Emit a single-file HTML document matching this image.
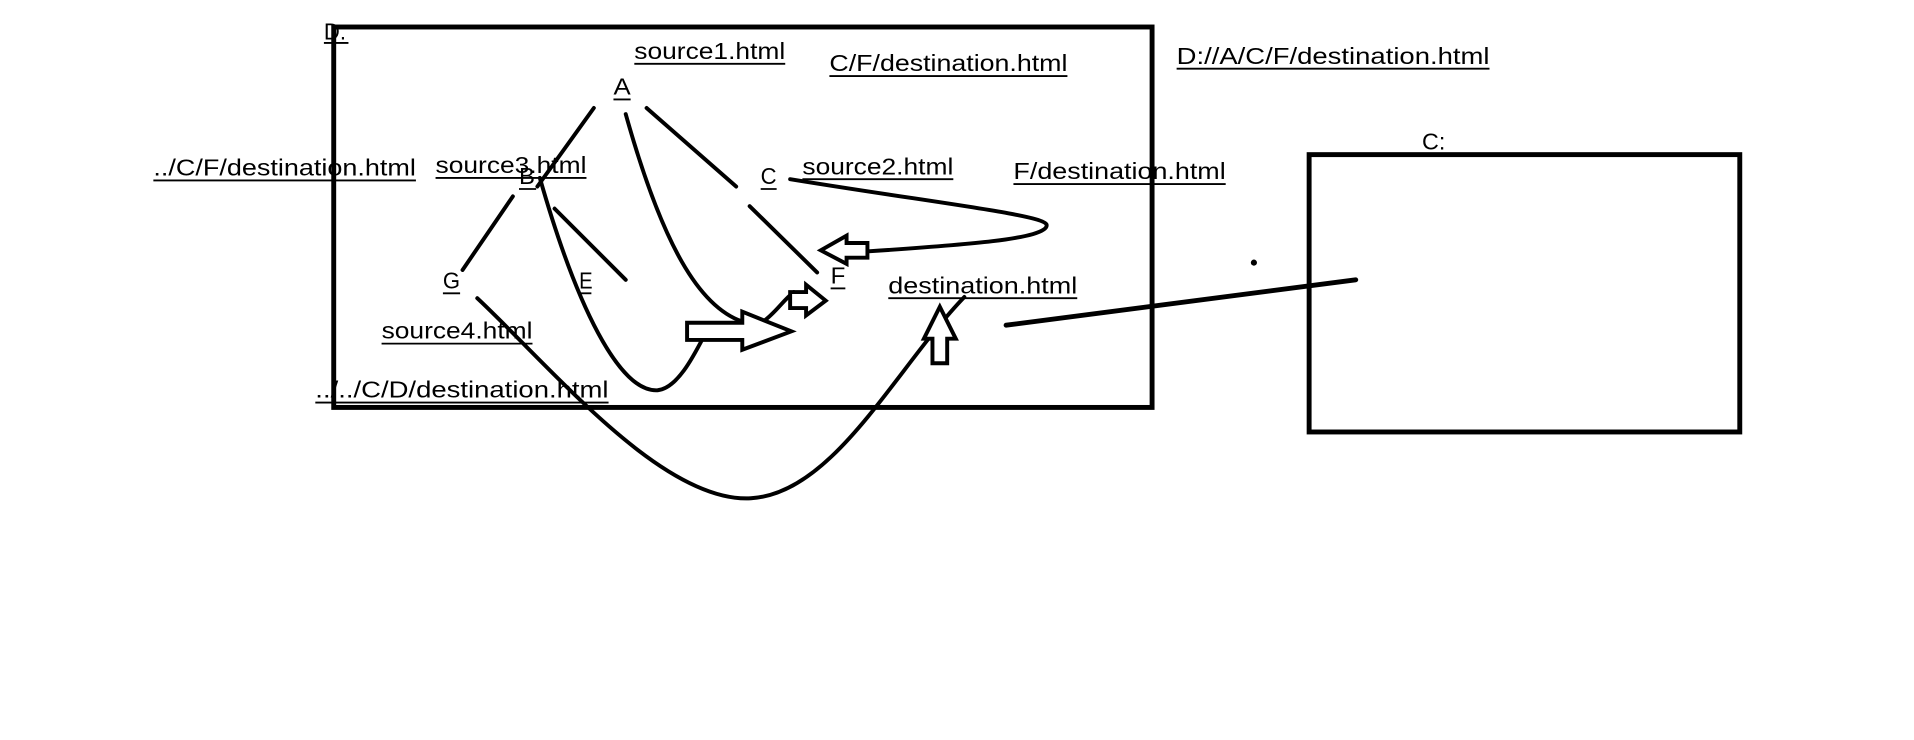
<!DOCTYPE html>
<html><head><meta charset="utf-8"><style>
html,body{margin:0;padding:0;background:#fff;width:1914px;height:740px;overflow:hidden}
svg{display:block}
text{font-family:"Liberation Sans",sans-serif;font-size:19px;fill:#000}
</style></head><body>
<svg width="1914" height="740" viewBox="0 0 1560 603" preserveAspectRatio="none" xmlns="http://www.w3.org/2000/svg">
<g fill="none" stroke="#000" stroke-linecap="round" stroke-linejoin="miter">
<rect x="272" y="22" width="667" height="310" stroke-width="4"/>
<rect x="1067" y="126" width="351" height="226" stroke-width="4"/>
<g stroke-width="3.2">
<line x1="484" y1="88" x2="438" y2="152"/>
<line x1="527" y1="88" x2="600" y2="152"/>
<line x1="611" y1="168" x2="666" y2="222"/>
<line x1="418" y1="160" x2="377" y2="220"/>
<line x1="452" y1="170" x2="510" y2="228"/>
<path d="M440,145 C470,250 505,320 536,318 C555,316 570,280 578,266"/>
<path d="M510,93 C540,200 570,250 605,262"/>
<path d="M622,262 C632,255 638,245 647,238"/>
<path d="M644,146 C760,165 850,175 853,183 C856,195 780,200 705,205"/>
<path d="M389,243 C450,300 540,410 612,406 C680,402 730,300 786,242"/>
<polygon points="560,263 605,263 605,254 645,270 605,285 605,277 560,277" fill="#fff"/>
<polygon points="644,238 657,238 657,232 673,245 657,257 657,251 644,251" fill="#fff"/>
<polygon points="707,198 690,198 690,192 669,204 690,215 690,210 707,210" fill="#fff"/>
<polygon points="760,296 772,296 772,276 779,276 766,250 753,276 760,276" fill="#fff"/>
</g>
<line x1="820" y1="265" x2="1105" y2="228" stroke-width="4"/>
</g>
<circle cx="1022" cy="214" r="2.5" fill="#000"/>
<g>
<text x="264" y="32" textLength="18" lengthAdjust="spacingAndGlyphs">D.</text>
<text x="517" y="48" textLength="123" lengthAdjust="spacingAndGlyphs">source1.html</text>
<text x="676" y="58" textLength="194" lengthAdjust="spacingAndGlyphs">C/F/destination.html</text>
<text x="959" y="52" textLength="255" lengthAdjust="spacingAndGlyphs">D://A/C/F/destination.html</text>
<text x="500" y="77" textLength="14" lengthAdjust="spacingAndGlyphs">A</text>
<text x="125" y="143" textLength="214" lengthAdjust="spacingAndGlyphs">../C/F/destination.html</text>
<text x="355" y="141" textLength="123" lengthAdjust="spacingAndGlyphs">source3.html</text>
<text x="423" y="150" textLength="13" lengthAdjust="spacingAndGlyphs">B</text>
<text x="620" y="150" textLength="13" lengthAdjust="spacingAndGlyphs">C</text>
<text x="654" y="142" textLength="123" lengthAdjust="spacingAndGlyphs">source2.html</text>
<text x="826" y="146" textLength="173" lengthAdjust="spacingAndGlyphs">F/destination.html</text>
<text x="1159" y="122" textLength="19" lengthAdjust="spacingAndGlyphs">C:</text>
<text x="361" y="235" textLength="14" lengthAdjust="spacingAndGlyphs">G</text>
<text x="472" y="235" textLength="11" lengthAdjust="spacingAndGlyphs">E</text>
<text x="677" y="231" textLength="12" lengthAdjust="spacingAndGlyphs">F</text>
<text x="724" y="239" textLength="154" lengthAdjust="spacingAndGlyphs">destination.html</text>
<text x="311" y="276" textLength="123" lengthAdjust="spacingAndGlyphs">source4.html</text>
<text x="257" y="324" textLength="239" lengthAdjust="spacingAndGlyphs">../../C/D/destination.html</text>
</g>
<g stroke="#000" stroke-width="1.5">
<line x1="264" y1="35" x2="284" y2="35"/>
<line x1="517" y1="52" x2="640" y2="52"/>
<line x1="676" y1="62" x2="870" y2="62"/>
<line x1="959" y1="56" x2="1214" y2="56"/>
<line x1="500" y1="81" x2="514" y2="81"/>
<line x1="125" y1="147" x2="339" y2="147"/>
<line x1="355" y1="145" x2="478" y2="145"/>
<line x1="423" y1="154" x2="437" y2="154"/>
<line x1="620" y1="154" x2="633" y2="154"/>
<line x1="654" y1="146" x2="777" y2="146"/>
<line x1="826" y1="150" x2="999" y2="150"/>
<line x1="361" y1="239" x2="375" y2="239"/>
<line x1="472" y1="239" x2="482" y2="239"/>
<line x1="677" y1="235" x2="689" y2="235"/>
<line x1="724" y1="243" x2="878" y2="243"/>
<line x1="311" y1="280" x2="434" y2="280"/>
<line x1="257" y1="328" x2="496" y2="328"/>
</g>
</svg>
</body></html>
